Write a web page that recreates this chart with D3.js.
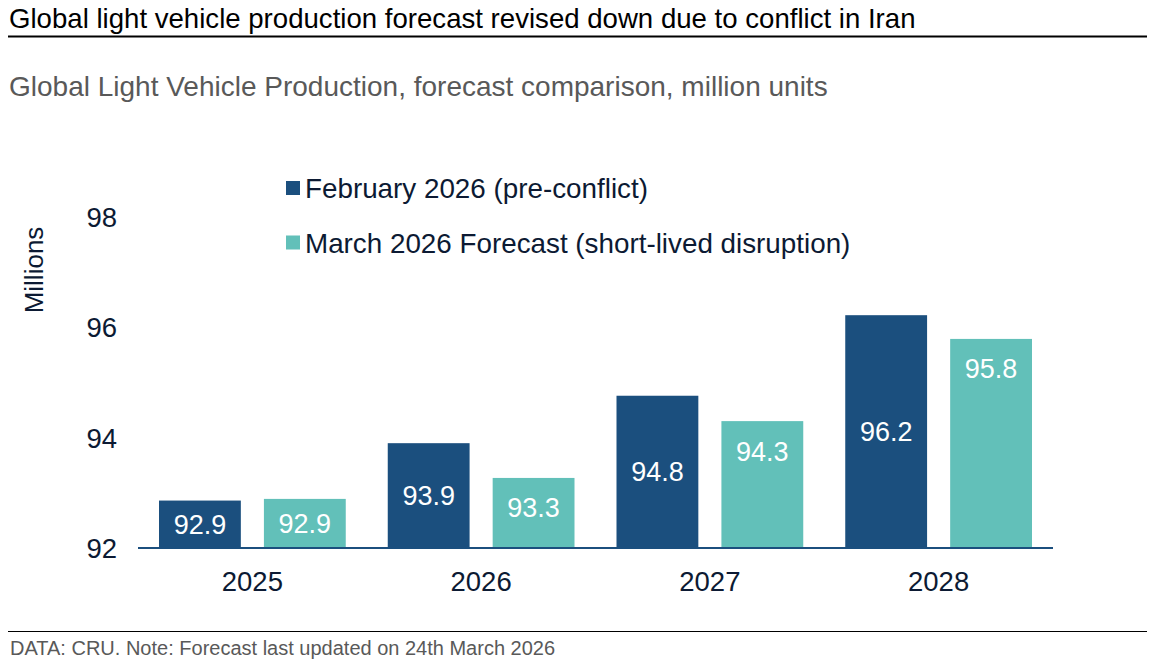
<!DOCTYPE html>
<html><head><meta charset="utf-8">
<script src="https://cdn.jsdelivr.net/npm/d3@7"></script>
<style>body{margin:0;background:#fff;} svg{display:block;font-family:"Liberation Sans",Arial,sans-serif;}</style>
</head><body>
<svg id="c" width="1159" height="663"></svg>
<script>
const categories = ["2025","2026","2027","2028"];
const seriesNames = ["February 2026 (pre-conflict)","March 2026 Forecast (short-lived disruption)"];
const febValues = [92.86, 93.90, 94.76, 96.22];
const marValues = [92.89, 93.27, 94.30, 95.79];
const yTicks = [92, 94, 96, 98];
const colors = ["#1b4f7e", "#62c0b9"];

const svg = d3.select("#c");
const textCol = "#0c1a33";

svg.append("text").attr("x",9).attr("y",28).attr("font-size",27.6).attr("fill","#000")
  .text("Global light vehicle production forecast revised down due to conflict in Iran");
svg.append("line").attr("x1",8).attr("x2",1147).attr("y1",36.5).attr("y2",36.5).attr("stroke","#000").attr("stroke-width",2);
svg.append("text").attr("x",9).attr("y",96).attr("font-size",28).attr("fill","#595959")
  .text("Global Light Vehicle Production, forecast comparison, million units");

const x0 = d3.scaleBand().domain(categories).range([138,1053]).paddingInner(0).paddingOuter(0);
const x1 = d3.scaleBand().domain([0,1]).range([21, x0.bandwidth()-21]).paddingInner(0.22);
const y = d3.scaleLinear().domain([92,98]).range([548,217]);

const data = categories.map((c,i)=>({c, vals:[febValues[i], marValues[i]]}));

const g = svg.append("g");
data.forEach(d=>{
  d.vals.forEach((v,s)=>{
    const bx = x0(d.c)+x1(s);
    g.append("rect").attr("x",bx).attr("y",y(v)).attr("width",x1.bandwidth()).attr("height",y(92)-y(v)).attr("fill",colors[s]);
    const top = y(v), center=(y(v)+y(92))/2;
    const cy = s===0 ? center : Math.min(center, top+30);
    g.append("text").attr("x",bx+x1.bandwidth()/2).attr("y",cy+9.5).attr("text-anchor","middle")
      .attr("font-size",27).attr("fill","#fff").text(d3.format(".1f")(v));
  });
});

// x axis
svg.append("line").attr("x1",138).attr("x2",1053).attr("y1",548).attr("y2",548).attr("stroke","#1b4f7e").attr("stroke-width",2);
const xAxis = svg.append("g").attr("transform","translate(0,548)").call(d3.axisBottom(x0).tickSize(0).tickPadding(0));
xAxis.select(".domain").remove();
xAxis.selectAll("text").attr("font-size",27.5).attr("fill",textCol).attr("dy",0).attr("y",43).attr("font-family","Liberation Sans, Arial, sans-serif");

// y axis
const yAxis = svg.append("g").attr("transform","translate(117,0)").call(d3.axisLeft(y).tickValues(yTicks).tickSize(0).tickPadding(0).tickFormat(d3.format("d")));
yAxis.select(".domain").remove();
yAxis.selectAll("text").attr("font-size",27.5).attr("fill",textCol).attr("dy","0.35em").attr("font-family","Liberation Sans, Arial, sans-serif");

svg.append("text").attr("transform","translate(43,270) rotate(-90)").attr("text-anchor","middle")
  .attr("font-size",26).attr("fill",textCol).text("Millions");

// legend
seriesNames.forEach((n,i)=>{
  const ly = 181 + i*54.5;
  svg.append("rect").attr("x",286).attr("y",ly).attr("width",14).attr("height",14).attr("fill",colors[i]);
  svg.append("text").attr("x",305).attr("y",ly+17).attr("font-size",27.8).attr("fill",textCol).text(n);
});

svg.append("line").attr("x1",8).attr("x2",1147).attr("y1",631.5).attr("y2",631.5).attr("stroke","#000").attr("stroke-width",1.2);
svg.append("text").attr("x",10).attr("y",655).attr("font-size",20).attr("fill","#595959")
  .text("DATA: CRU. Note: Forecast last updated on 24th March 2026");
</script>
</body></html>
